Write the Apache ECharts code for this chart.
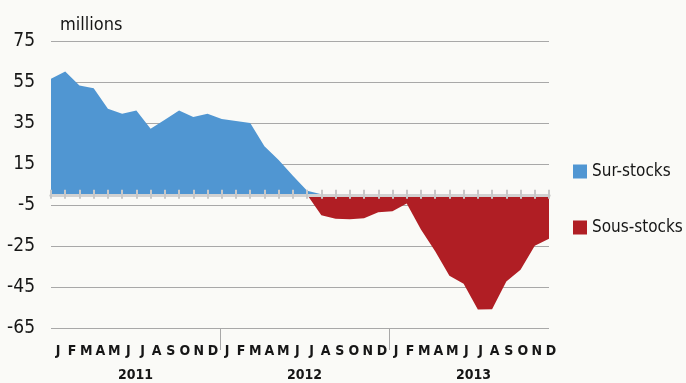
<!DOCTYPE html>
<html>
<head>
<meta charset="utf-8">
<script src="https://cdn.jsdelivr.net/npm/echarts@6/dist/echarts.min.js"></script>
<style>
html,body{margin:0;padding:0;background:#fafaf7;}
#chart{width:686px;height:383px;}
</style>
</head>
<body>
<div id="chart"></div>
<script>
const years = ['2011', '2012', '2013'];
const monthLetters = ['J','F','M','A','M','J','J','A','S','O','N','D'];
const categories = years.flatMap(y => monthLetters.map(m => m + ' ' + y));
const surStocks = [56.6, 60.1, 53.3, 52, 42, 39.5, 41.1, 32.2, 36.6, 41.1, 37.9, 39.5,
  36.9, 36, 35, 23.6, 17, 9.3, 2, 0.3,
  null, null, null, null, null, null, null, null, null, null, null, null, null, null, null, null];
const sousStocks = [null, null, null, null, null, null, null, null, null, null, null, null,
  null, null, null, null, null, null, 0, -10, -11.7, -12, -11.5, -8.5,
  -8, -4.3, -17, -27.6, -39.5, -43.4, -56, -55.8, -42.3, -36.6, -24.9, -21.5];
const yTicks = { min: -65, max: 75, interval: 20 };
const separatorPositions = [12, 24];
const yearLabelPositions = [6, 18, 30];

const FONT = '"Liberation Sans Narrow", "DejaVu Sans Condensed", "Roboto", sans-serif';
const TXT = '#161616';

const chart = echarts.init(document.getElementById('chart'), null, { renderer: 'canvas' });
chart.setOption({
  backgroundColor: '#fafaf7',
  animation: false,
  textStyle: { fontFamily: FONT },
  legend: {
    orient: 'vertical',
    left: 573,
    top: 163,
    padding: 0,
    itemWidth: 14,
    itemHeight: 14,
    itemGap: 39,
    icon: 'rect',
    textStyle: { fontFamily: FONT, fontSize: 17, color: TXT },
    data: ['Sur-stocks', 'Sous-stocks']
  },
  grid: [
    { left: 51, top: 41, width: 498, height: 287 },
    { left: 51, top: 327, width: 507, height: 1 }
  ],
  xAxis: [
    {
      type: 'category', gridIndex: 0, data: categories, boundaryGap: false, z: 5,
      axisLine: { onZero: true, lineStyle: { color: '#d2d2d2', width: 3 } },
      axisTick: { show: true, interval: 0, inside: true, length: 5, lineStyle: { color: '#c8c8c8', width: 2 } },
      axisLabel: { show: false },
      splitLine: { show: false }
    },
    {
      type: 'category', gridIndex: 0, data: categories, boundaryGap: false, position: 'bottom', z: 5,
      axisLine: { onZero: true, onZeroAxisIndex: 0, lineStyle: { color: '#d2d2d2', width: 3 } },
      axisTick: { show: true, interval: 0, inside: false, length: 4, lineStyle: { color: '#c8c8c8', width: 2 } },
      axisLabel: { show: false },
      splitLine: { show: false }
    },
    {
      type: 'category', gridIndex: 1, data: categories, boundaryGap: true, position: 'bottom',
      axisLine: { show: false },
      axisTick: { show: false },
      axisLabel: {
        interval: 0, margin: 16, fontSize: 14, fontWeight: 'bold', color: TXT, fontFamily: FONT,
        formatter: v => v.split(' ')[0]
      },
      splitLine: { show: false }
    },
    {
      type: 'value', gridIndex: 1, min: 0, max: 36, position: 'bottom',
      axisLine: { show: false },
      axisTick: { show: true, customValues: separatorPositions, length: 22, lineStyle: { color: '#a8a8a8', width: 1 } },
      axisLabel: {
        customValues: yearLabelPositions, margin: 40, fontSize: 14, fontWeight: 'bold', color: TXT, fontFamily: FONT,
        formatter: v => years[Math.round((v - 6) / 12)]
      },
      splitLine: { show: false }
    }
  ],
  yAxis: [
    {
      type: 'value', gridIndex: 0, min: yTicks.min, max: yTicks.max, interval: yTicks.interval,
      name: 'millions', nameLocation: 'end', nameGap: 7,
      nameTextStyle: { align: 'left', verticalAlign: 'bottom', padding: [0, 0, 0, 9], fontSize: 18, color: TXT, fontFamily: FONT },
      axisLine: { show: false },
      axisTick: { show: false },
      axisLabel: { margin: 16, fontSize: 19, color: TXT, fontFamily: FONT },
      splitLine: { show: true, lineStyle: { color: '#a8a8a8', width: 1 } }
    },
    { type: 'value', gridIndex: 1, show: false, min: 0, max: 1 }
  ],
  series: [
    {
      name: 'Sur-stocks', type: 'line', xAxisIndex: 0, yAxisIndex: 0,
      data: surStocks, showSymbol: false, symbol: 'none',
      itemStyle: { color: '#5096d2' },
      lineStyle: { width: 0, color: '#5096d2' },
      areaStyle: { color: '#5096d2', opacity: 1 }
    },
    {
      name: 'Sous-stocks', type: 'line', xAxisIndex: 0, yAxisIndex: 0,
      data: sousStocks, showSymbol: false, symbol: 'none',
      itemStyle: { color: '#b01e24' },
      lineStyle: { width: 0, color: '#b01e24' },
      areaStyle: { color: '#b01e24', opacity: 1 }
    }
  ]
});
</script>
</body>
</html>
